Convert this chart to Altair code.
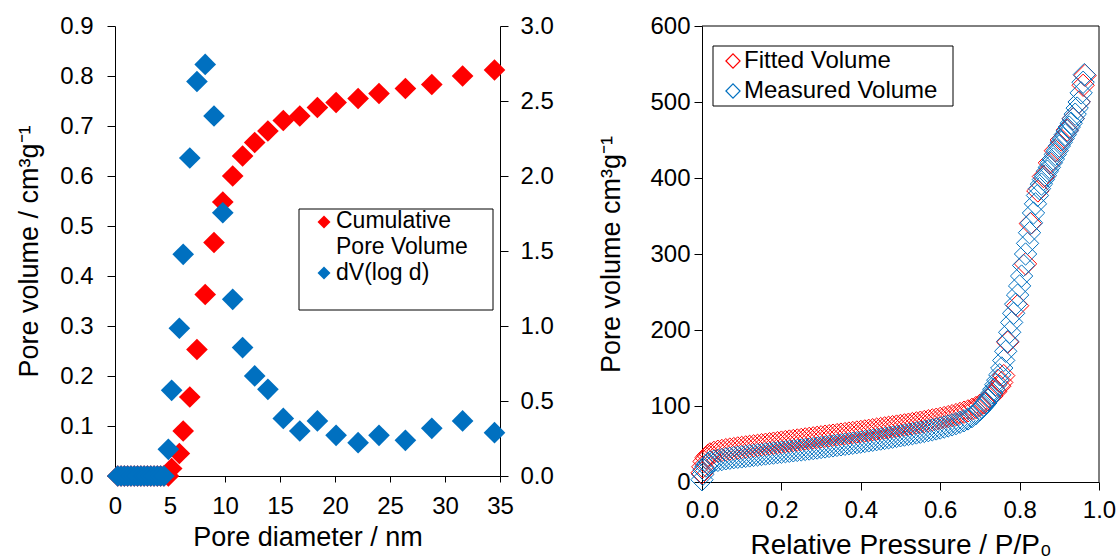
import altair as alt
import pandas as pd

# ---------------- Pore size distribution (left panel) ----------------
diameter_nm = [0.25, 0.55, 0.85, 1.15, 1.45, 1.75, 2.05, 2.35, 2.65, 2.95, 3.25, 3.55,
               3.85, 4.15, 4.45, 4.85, 5.15, 5.85, 6.2, 6.8, 7.45, 8.2, 9.0, 9.8, 10.7,
               11.6, 12.7, 13.9, 15.3, 16.8, 18.4, 20.1, 22.1, 24.0, 26.4, 28.8, 31.6, 34.5]
cumulative_volume = [0.0, 0.0, 0.0, 0.0, 0.0, 0.0, 0.0, 0.0, 0.0, 0.0, 0.0, 0.0,
                     0.0, 0.0, 0.0, 0.0, 0.015, 0.045, 0.09, 0.158, 0.253, 0.363, 0.467,
                     0.548, 0.600, 0.640, 0.667, 0.690, 0.711, 0.720, 0.737, 0.747, 0.755,
                     0.765, 0.775, 0.783, 0.800, 0.812]
dv_logd = [0.0, 0.0, 0.0, 0.0, 0.0, 0.0, 0.0, 0.0, 0.0, 0.0, 0.0, 0.0,
           0.0, 0.0, 0.0, 0.178, 0.571, 0.985, 1.478, 2.12, 2.63, 2.744, 2.40, 1.755,
           1.178, 0.856, 0.667, 0.578, 0.384, 0.300, 0.367, 0.271, 0.222, 0.271, 0.238,
           0.318, 0.367, 0.289]

diam_ticks = [0, 5, 10, 15, 20, 25, 30, 35]
vol_ticks = [0.0, 0.1, 0.2, 0.3, 0.4, 0.5, 0.6, 0.7, 0.8, 0.9]
dv_ticks = [0.0, 0.5, 1.0, 1.5, 2.0, 2.5, 3.0]

# ---------------- N2 isotherm (right panel) ----------------
p_measured = [0.000, 0.002, 0.005, 0.01, 0.015, 0.02, 0.03, 0.04, 0.05, 0.06, 0.07, 0.08,
              0.09, 0.10, 0.11, 0.12, 0.13, 0.14, 0.15, 0.16, 0.17, 0.18, 0.19, 0.20,
              0.21, 0.22, 0.23, 0.24, 0.25, 0.26, 0.27, 0.28, 0.29, 0.30, 0.31, 0.32,
              0.33, 0.34, 0.35, 0.36, 0.37, 0.38, 0.39, 0.40, 0.41, 0.42, 0.43, 0.44,
              0.45, 0.46, 0.47, 0.48, 0.49, 0.50, 0.51, 0.52, 0.53, 0.54, 0.55, 0.56,
              0.57, 0.58, 0.59, 0.60, 0.61, 0.62, 0.63, 0.64, 0.65, 0.66, 0.67, 0.68,
              0.69, 0.70, 0.705, 0.71, 0.715, 0.72, 0.725, 0.73, 0.735, 0.74, 0.745,
              0.75, 0.755, 0.76, 0.765, 0.77, 0.775, 0.78, 0.785, 0.79, 0.795, 0.80,
              0.805, 0.81, 0.815, 0.82, 0.825, 0.83, 0.835, 0.84, 0.845, 0.85, 0.855,
              0.86, 0.865, 0.87, 0.875, 0.88, 0.885, 0.89, 0.895, 0.90, 0.905, 0.91,
              0.915, 0.92, 0.925, 0.93, 0.935, 0.94, 0.945, 0.95, 0.955, 0.96, 0.963]
v_measured = [3, 10, 16, 21, 24, 26, 27.5, 28.5, 29.5, 30.5, 31.2, 32,
              32.5, 33, 33.7, 34.3, 35, 35.6, 36.2, 36.8, 37.4, 38, 38.6, 39.2,
              39.8, 40.4, 41, 41.6, 42.2, 42.8, 43.4, 44, 44.7, 45.4, 46.1, 46.8,
              47.5, 48.2, 48.9, 49.6, 50.3, 51, 51.7, 52.5, 53.3, 54.1, 54.9, 55.7,
              56.5, 57.3, 58.1, 59, 59.9, 60.8, 61.7, 62.6, 63.5, 64.5, 65.5, 66.5,
              67.5, 68.6, 69.8, 71, 72.3, 73.7, 75.2, 76.8, 78.6, 80.6, 83, 86,
              90, 95, 98, 101, 104, 108, 112, 117, 122, 128, 134,
              141, 150, 160, 172, 185, 197, 210, 222, 234, 246, 258,
              271, 285, 300, 314, 328, 341, 354, 366, 377, 386, 392,
              398, 403, 409, 414, 420, 425, 431, 436, 442, 447, 452,
              457, 462, 467, 472, 478, 484, 492, 500, 512, 526, 536]

p_fitted = [0.000, 0.002, 0.005, 0.01, 0.015, 0.02, 0.03, 0.04, 0.05, 0.06, 0.07, 0.08,
            0.09, 0.10, 0.11, 0.12, 0.13, 0.14, 0.15, 0.16, 0.17, 0.18, 0.19, 0.20,
            0.21, 0.22, 0.23, 0.24, 0.25, 0.26, 0.27, 0.28, 0.29, 0.30, 0.31, 0.32,
            0.33, 0.34, 0.35, 0.36, 0.37, 0.38, 0.39, 0.40, 0.41, 0.42, 0.43, 0.44,
            0.45, 0.46, 0.47, 0.48, 0.49, 0.50, 0.51, 0.52, 0.53, 0.54, 0.55, 0.56,
            0.57, 0.58, 0.59, 0.60, 0.61, 0.62, 0.63, 0.64, 0.65, 0.66, 0.67, 0.68,
            0.69, 0.70, 0.71, 0.72, 0.73, 0.74, 0.75, 0.755, 0.76, 0.77, 0.795, 0.815,
            0.827, 0.846, 0.86, 0.875, 0.89, 0.905, 0.92, 0.935, 0.95, 0.96, 0.965]
v_fitted = [12, 20, 27, 32, 35, 37, 39, 40.5, 41.5, 42.5, 43.3, 44,
            44.8, 45.5, 46.2, 46.9, 47.6, 48.3, 49, 49.7, 50.4, 51.1, 51.8, 52.5,
            53.2, 53.9, 54.6, 55.3, 56, 56.7, 57.4, 58.1, 58.8, 59.5, 60.2, 60.9,
            61.6, 62.3, 63, 63.7, 64.4, 65.1, 65.8, 66.5, 67.2, 68, 68.8, 69.6,
            70.4, 71.2, 72, 72.8, 73.6, 74.4, 75.2, 76, 76.9, 77.8, 78.7, 79.6,
            80.6, 81.6, 82.6, 83.7, 84.8, 86, 87.3, 88.7, 90.2, 91.8, 93.6, 95.6,
            98, 101, 104, 108, 113, 119, 126, 131, 140, 184, 232, 287,
            340, 383, 402, 420, 436, 450, 463, 478, 500, 522, 535]

pressure_ticks = [0.0, 0.2, 0.4, 0.6, 0.8, 1.0]
iso_ticks = [0, 100, 200, 300, 400, 500, 600]

RED = "#FF0000"
BLUE = "#0070C0"
FONT = "Liberation Sans"

W1, H1 = 385, 450
W2, H2 = 397, 456

one_row = pd.DataFrame({"k": [0]})


def legend_box(x0, x1, y0, y1):
    return alt.Chart(one_row).mark_rect(fill="white", stroke="black", strokeWidth=1).encode(
        x=alt.value(x0), x2=alt.value(x1), y=alt.value(y0), y2=alt.value(y1))


def legend_symbol(x, y, color, filled, size):
    return alt.Chart(one_row).mark_point(
        shape="diamond", filled=filled, size=size, color=color, opacity=1,
        strokeWidth=1.2).encode(x=alt.value(x), y=alt.value(y))


def legend_text(x, y, label, size=24):
    return alt.Chart(one_row).mark_text(
        align="left", baseline="middle", fontSize=size, font=FONT, color="black").encode(
        x=alt.value(x), y=alt.value(y), text=alt.value(label))


# ---------- left panel ----------
psd = pd.DataFrame({"d": diameter_nm, "cum": cumulative_volume, "dv": dv_logd})

x_left = alt.X("d:Q", scale=alt.Scale(domain=[0, 35], nice=False, zero=False),
               axis=alt.Axis(values=diam_ticks, title="Pore diameter / nm", grid=False,
                             tickSize=6, labelPadding=12, titlePadding=6, labelFlush=False))

cum_layer = alt.Chart(psd).mark_point(
    shape="diamond", filled=True, size=470, color=RED, opacity=1).encode(
    x=x_left,
    y=alt.Y("cum:Q", scale=alt.Scale(domain=[0, 0.9], nice=False),
            axis=alt.Axis(values=vol_ticks, format=".1f", orient="left", grid=False,
                          title="Pore volume / cm³g⁻¹", tickSize=8, labelPadding=14,
                          titlePadding=16, labelFlush=False)))

dv_layer = alt.Chart(psd).mark_point(
    shape="diamond", filled=True, size=470, color=BLUE, opacity=1).encode(
    x=x_left,
    y=alt.Y("dv:Q", scale=alt.Scale(domain=[0, 3], nice=False),
            axis=alt.Axis(values=dv_ticks, format=".1f", orient="right", grid=False,
                          title=None, tickSize=8, labelPadding=12, labelFlush=False)))

left = alt.layer(
    cum_layer, dv_layer,
    legend_box(184, 378, 183, 284),
    legend_symbol(209, 196, RED, True, 170),
    legend_text(221, 195, "Cumulative", 23),
    legend_text(221, 221, "Pore Volume", 23),
    legend_symbol(209, 247, BLUE, True, 170),
    legend_text(221, 247, "dV(log d)", 23),
).resolve_scale(y="independent").properties(width=W1, height=H1)

# ---------- right panel ----------
measured = pd.DataFrame({"p": p_measured, "v": v_measured})
fitted = pd.DataFrame({"p": p_fitted, "v": v_fitted})

x_right = alt.X("p:Q", scale=alt.Scale(domain=[0, 1], nice=False),
                axis=alt.Axis(values=pressure_ticks, format=".1f", grid=False,
                              title="Relative Pressure / P/P₀", titleFontSize=28,
                              tickSize=8, labelPadding=8, titlePadding=9,
                              labelFlush=False))
y_right = alt.Y("v:Q", scale=alt.Scale(domain=[0, 600], nice=False),
                axis=alt.Axis(values=iso_ticks, grid=False, title="Pore volume cm³g⁻¹",
                              tickSize=8, labelPadding=4, titlePadding=24,
                              labelFlush=False))

fitted_layer = alt.Chart(fitted).mark_point(
    shape="diamond", filled=False, size=500, color=RED, strokeWidth=1, opacity=1).encode(
    x=x_right, y=y_right)
measured_layer = alt.Chart(measured).mark_point(
    shape="diamond", filled=False, size=500, color=BLUE, strokeWidth=1, opacity=1).encode(
    x=x_right, y=y_right)

frame_top = alt.Chart(one_row).mark_rule(color="black", strokeWidth=1).encode(
    x=alt.value(0), x2=alt.value(W2), y=alt.value(0))
frame_right = alt.Chart(one_row).mark_rule(color="black", strokeWidth=1).encode(
    x=alt.value(W2), y=alt.value(0), y2=alt.value(H2))

right = alt.layer(
    fitted_layer, measured_layer, frame_top, frame_right,
    legend_box(11, 251, 20, 80),
    legend_symbol(31, 35, RED, False, 200),
    legend_text(42, 35, "Fitted Volume"),
    legend_symbol(31, 65, BLUE, False, 200),
    legend_text(42, 65, "Measured Volume"),
).properties(width=W2, height=H2)

chart = alt.hconcat(left, right, spacing=202, bounds="flush").properties(
    padding={"left": 15, "top": 13, "right": 0, "bottom": 0},
    background="white",
).configure_view(stroke="transparent").configure_axis(
    labelFont=FONT, titleFont=FONT, labelFontSize=24, titleFontSize=27,
    labelColor="black", titleColor="black", titleFontWeight="normal",
    domainColor="black", tickColor="black", domainWidth=1, tickWidth=1,
)

chart.save("out.html", embed_options={"renderer": "svg", "actions": False})
